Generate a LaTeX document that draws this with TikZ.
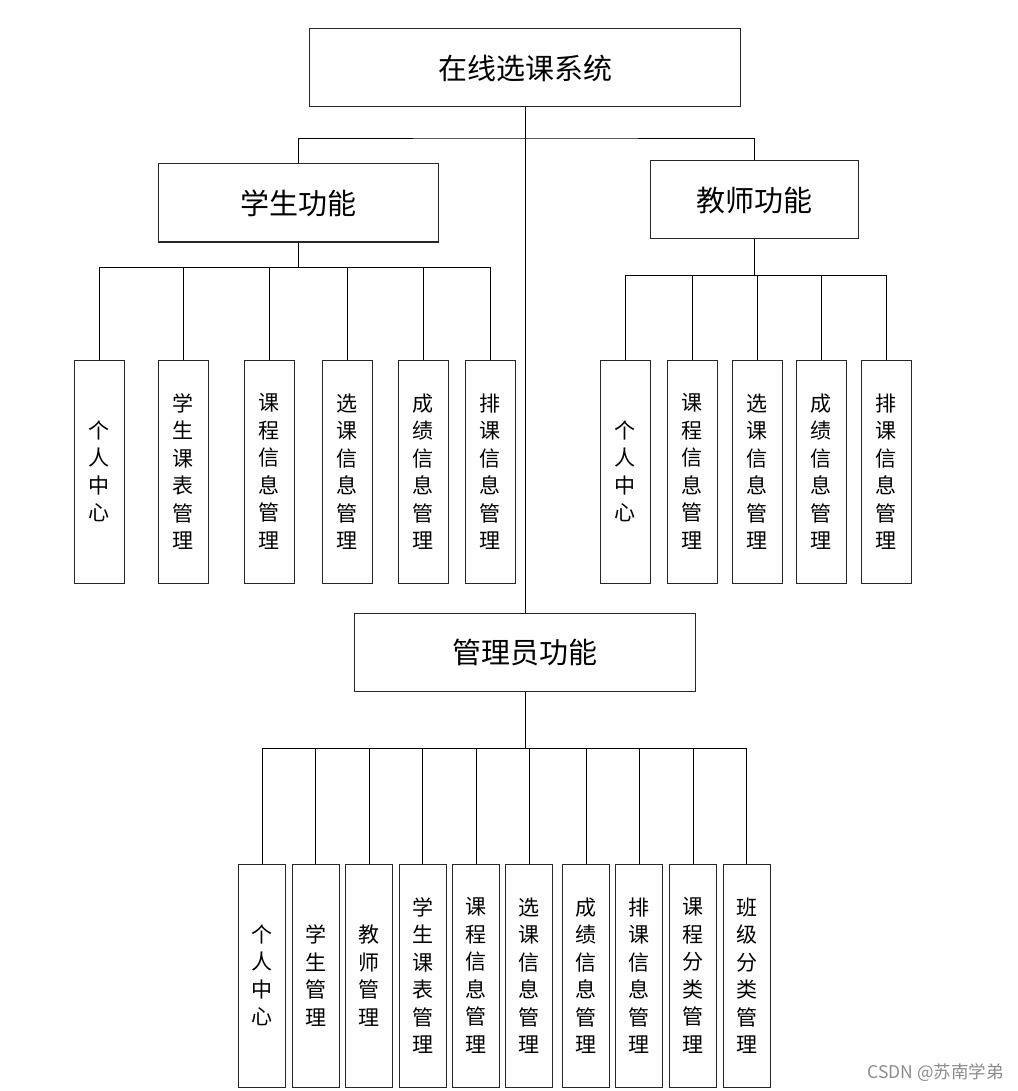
\documentclass[tikz,border=0pt]{standalone}
\usepackage{fontspec}
\newfontfamily\cjk{Noto Sans CJK SC}
\usetikzlibrary{positioning}
\tikzset{
box/.style={draw=black!85, line width=1pt, inner sep=0pt, align=center,
  font=\cjk\fontsize{29}{34}\selectfont},
leaf/.style={draw=black!85, line width=1pt, inner sep=0pt, align=center,
  minimum width=50pt, minimum height=223pt,
  font=\cjk\fontsize{21}{27.5}\selectfont},
aleaf/.style={leaf, minimum width=47pt},
link/.style={draw=black, line width=0.9pt},
}

\begin{document}
\begin{tikzpicture}[x=1pt,y=-1pt]
\useasboundingbox[fill=white] (0,0) rectangle (1017,1091);

% top level
\node[box, minimum width=431pt, minimum height=78pt] (root) at (525,68) {在线选课系统};
\node[box, minimum width=280pt, minimum height=78pt] (stu) at (298,203) {学生功能};
\node[box, minimum width=208pt, minimum height=78pt] (tea) at (754,200) {教师功能};
\node[box, minimum width=341pt, minimum height=78pt] (adm) at (525,652) {管理员功能};

\coordinate (rootbus) at (525,138);
\coordinate (stubus) at (298,267);
\coordinate (teabus) at (754,275);
\coordinate (admbus) at (525,748);

\draw[link] (root.south) -- (rootbus);
\draw[link] (stu.north) |- (rootbus) -| (tea.north);
\draw[link] (rootbus) -- (adm.north);
\draw[link] (stu.south) -- (stubus);
\draw[link] (tea.south) -- (teabus);
\draw[link] (adm.south) -- (admbus);

% student functions
\foreach \x/\t [count=\i] in {99/{个\\人\\中\\心}, 183/{学\\生\\课\\表\\管\\理},
    269/{课\\程\\信\\息\\管\\理}, 347/{选\\课\\信\\息\\管\\理},
    423/{成\\绩\\信\\息\\管\\理}, 490/{排\\课\\信\\息\\管\\理}}{
  \node[leaf] (s\i) at (\x,471.5) {\t};
  \draw[link] (stubus) -| (s\i.north);
}

% teacher functions
\foreach \x/\t [count=\i] in {625/{个\\人\\中\\心}, 692/{课\\程\\信\\息\\管\\理},
    757/{选\\课\\信\\息\\管\\理}, 821/{成\\绩\\信\\息\\管\\理},
    886/{排\\课\\信\\息\\管\\理}}{
  \node[leaf] (t\i) at (\x,471.5) {\t};
  \draw[link] (teabus) -| (t\i.north);
}

% admin functions
\foreach \x/\t [count=\i] in {262/{个\\人\\中\\心}, 315.5/{学\\生\\管\\理},
    369/{教\\师\\管\\理}, 422.5/{学\\生\\课\\表\\管\\理},
    476/{课\\程\\信\\息\\管\\理}, 529/{选\\课\\信\\息\\管\\理},
    586/{成\\绩\\信\\息\\管\\理}, 639/{排\\课\\信\\息\\管\\理},
    693/{课\\程\\分\\类\\管\\理}, 746.5/{班\\级\\分\\类\\管\\理}}{
  \node[aleaf] (a\i) at (\x,975.5) {\t};
  \draw[link] (admbus) -| (a\i.north);
}

\node[anchor=east, inner sep=0pt, text=black!45, font=\cjk\fontsize{17.5}{20}\selectfont]
  (mark) at (1004,1073) {CSDN @苏南学弟};
\end{tikzpicture}
\end{document}
